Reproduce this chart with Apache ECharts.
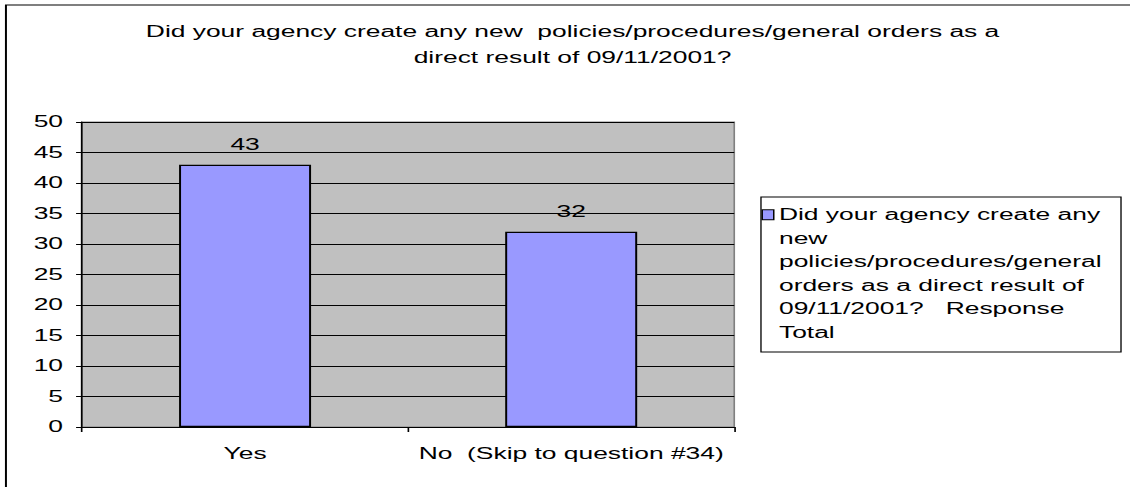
<!DOCTYPE html>
<html>
<head>
<meta charset="utf-8">
<script src="https://cdn.jsdelivr.net/npm/echarts@6/dist/echarts.min.js"></script>
<style>
  html, body { margin: 0; padding: 0; background: #fff; overflow: hidden; }
  /* the chart is laid out narrow and widened, giving the broad lettering */
  #chart { width: 684.8px; height: 487px; transform: scaleX(1.65); transform-origin: 0 0; }
</style>
</head>
<body>
<div id="chart"></div>
<script>
const titleLines = [
  'Did your agency create any new  policies/procedures/general orders as a',
  'direct result of 09/11/2001?'
];
const seriesName = 'Did your agency create any new policies/procedures/general orders as a direct result of 09/11/2001?   Response Total';
const legendLines = [
  'Did your agency create any',
  'new',
  'policies/procedures/general',
  'orders as a direct result of',
  '09/11/2001?   Response',
  'Total'
];
const categories = ['Yes', 'No  (Skip to question #34)'];
const responses = [43, 32];
const yMin = 0, yMax = 50, yStep = 5;

const FONT = 'Arial, "Liberation Sans", sans-serif';
const chart = echarts.init(document.getElementById('chart'), null, { renderer: 'svg' });

chart.setOption({
  backgroundColor: '#ffffff',
  animation: false,
  textStyle: { fontFamily: FONT },
  title: {
    text: titleLines.join('\n'),
    left: 347,
    top: 19,
    padding: 0,
    textAlign: 'center',
    textStyle: { fontFamily: FONT, fontSize: 16, fontWeight: 'normal', color: '#000', lineHeight: 25.5 }
  },
  graphic: [
    {
      type: 'rect', silent: true, z: -1,
      shape: { x: 3.6, y: 5, width: 900, height: 700 },
      style: { fill: 'none', stroke: '#000', lineWidth: 1.2 }
    },
    {
      type: 'rect', silent: true,
      shape: { x: 461.2, y: 197, width: 218.2, height: 155 },
      style: { fill: '#fff', stroke: '#000', lineWidth: 0.8 }
    }
  ],
  legend: {
    left: 457.4,
    top: 203,
    padding: 0,
    icon: 'none',
    itemWidth: 0,
    itemHeight: 10,
    data: [seriesName],
    formatter: function () {
      return legendLines.map(function (line, i) {
        return (i === 0 ? '{m|}{g|}' : '{i|}') + line;
      }).join('\n');
    },
    textStyle: {
      fontFamily: FONT, fontSize: 16, color: '#000', lineHeight: 23.5,
      rich: {
        m: { width: 6.1, height: 9, backgroundColor: '#9999ff', borderColor: '#000', borderWidth: 0.9 },
        g: { width: 3.6 },
        i: { width: 9.7 }
      }
    }
  },
  grid: {
    left: 49.7,
    right: 240,
    top: 122,
    bottom: 60,
    show: true,
    backgroundColor: '#c0c0c0',
    borderColor: '#808080',
    borderWidth: 1
  },
  xAxis: {
    type: 'category',
    data: categories,
    axisLine: { lineStyle: { color: '#000', width: 1 } },
    axisTick: { show: true, length: 5, lineStyle: { color: '#000' } },
    axisLabel: { color: '#000', fontSize: 16, fontFamily: FONT, margin: 18, interval: 0 },
    splitLine: { show: false }
  },
  yAxis: {
    type: 'value',
    min: yMin,
    max: yMax,
    interval: yStep,
    axisLine: { show: true, lineStyle: { color: '#000', width: 1 } },
    axisTick: { show: true, length: 3.6, lineStyle: { color: '#000' } },
    axisLabel: { color: '#000', fontSize: 16, fontFamily: FONT, margin: 11.5 },
    splitLine: { show: true, lineStyle: { color: '#000', width: 1 } }
  },
  series: [
    {
      name: seriesName,
      type: 'bar',
      data: responses,
      barWidth: 80,
      itemStyle: { color: '#9999ff', borderColor: '#000', borderWidth: 1.2 },
      label: {
        show: true,
        position: 'top',
        distance: 12,
        color: '#000',
        fontSize: 16,
        fontFamily: FONT
      }
    }
  ]
});
</script>
</body>
</html>
